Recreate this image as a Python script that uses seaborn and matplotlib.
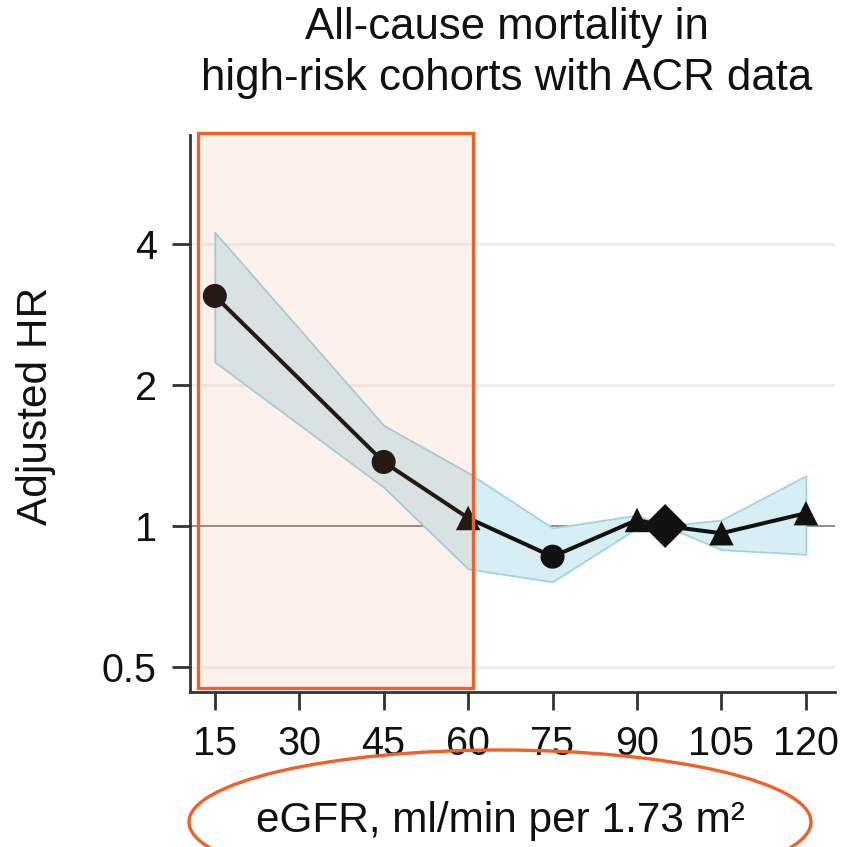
import matplotlib
matplotlib.use("Agg")
import matplotlib.pyplot as plt
import pandas as pd
import seaborn as sns
from matplotlib.patches import Ellipse, Rectangle

sns.set_theme(style="white")
plt.rcParams['font.family'] = ['Liberation Sans', 'DejaVu Sans']

# values
egfr = [15, 45, 60, 75, 90, 95, 105, 120]
hr = [3.1, 1.37, 1.04, 0.86, 1.03, 1.0, 0.965, 1.065]
ci_low = [2.24, 1.21, 0.81, 0.76, 0.99, 1.0, 0.89, 0.87]
ci_high = [4.24, 1.64, 1.30, 0.99, 1.055, 1.0, 1.03, 1.28]
kind = ['sig', 'sig', 'ns', 'sig', 'ns', 'ref', 'ns', 'ns']
y_ticks = [0.5, 1, 2, 4]
x_ticks = [15, 30, 45, 60, 75, 90, 105, 120]

df = pd.DataFrame({'egfr': egfr, 'hr': hr, 'lo': ci_low, 'hi': ci_high, 'kind': kind})

fig = plt.figure(figsize=(8.46, 8.47), dpi=100)
ax = fig.add_axes([0.2246, 0.183, 0.7626, 0.6576])

ax.set_yscale('log', base=2)
ax.set_xlim(10.6, 125.2)
ax.set_ylim(0.442, 6.84)

for v in [0.5, 2, 4]:
    ax.axhline(v, color='#efefef', lw=2.2, zorder=0)
ax.axhline(1, color='#8c8480', lw=1.3, zorder=1)

ax.fill_between(df['egfr'], df['lo'], df['hi'], facecolor='#d6eef4',
                edgecolor='#a3d4de', lw=1.3, zorder=2)
sns.lineplot(data=df, x='egfr', y='hr', color='#111111', lw=2.9, ax=ax, zorder=3)
sns.scatterplot(data=df, x='egfr', y='hr', style='kind', size='kind',
                markers={'sig': 'o', 'ns': '^', 'ref': 'D'},
                sizes={'sig': 300, 'ns': 310, 'ref': 500},
                color='#111111', edgecolor='#111111', linewidth=0, legend=False,
                ax=ax, zorder=4)

ax.set_yticks(y_ticks)
ax.set_yticklabels(['0.5', '1', '2', '4'])
ax.yaxis.set_minor_locator(matplotlib.ticker.NullLocator())
ax.set_xticks(x_ticks)
ax.set_xticklabels([str(t) for t in x_ticks])
ax.set_xlabel('')
ax.set_ylabel('')

for side in ['top', 'right']:
    ax.spines[side].set_visible(False)
for side in ['left', 'bottom']:
    ax.spines[side].set_color('#333333')
    ax.spines[side].set_linewidth(2.0)
ax.tick_params(axis='both', which='major', direction='out', length=13, width=2.0,
               color='#333333', labelsize=28.5, pad=11, labelcolor='#111111',
               left=True, bottom=True)

fig.text(0.599, 0.992, 'All-cause mortality in\nhigh-risk cohorts with ACR data',
         ha='center', va='top', fontsize=31.5, linespacing=1.33, color='#111111')
fig.text(0.043, 1 - 406 / 847, 'Adjusted HR', rotation=90, ha='center', va='center',
         fontsize=30.5, color='#111111')
fig.text(0.592, 1 - 832 / 847, 'eGFR, ml/min per 1.73 m²', ha='center', va='baseline',
         fontsize=30.5, color='#111111')

# highlight annotations
fig.patches.append(Rectangle((198 / 846, 1 - 688 / 847), 275 / 846, 555 / 847,
                             transform=fig.transFigure, facecolor='#ee6a30', alpha=0.09,
                             edgecolor='none', zorder=5))
fig.patches.append(Rectangle((198 / 846, 1 - 688 / 847), 275 / 846, 555 / 847,
                             transform=fig.transFigure, facecolor='none',
                             edgecolor='#ef6128', lw=2.4, zorder=6))
fig.patches.append(Ellipse((500 / 846, 1 - 822 / 847), 622 / 846, 144 / 847,
                           transform=fig.transFigure, facecolor='none',
                           edgecolor='#ef6128', lw=2.4, zorder=6))

fig.savefig('out.png', dpi=100, facecolor='white')
